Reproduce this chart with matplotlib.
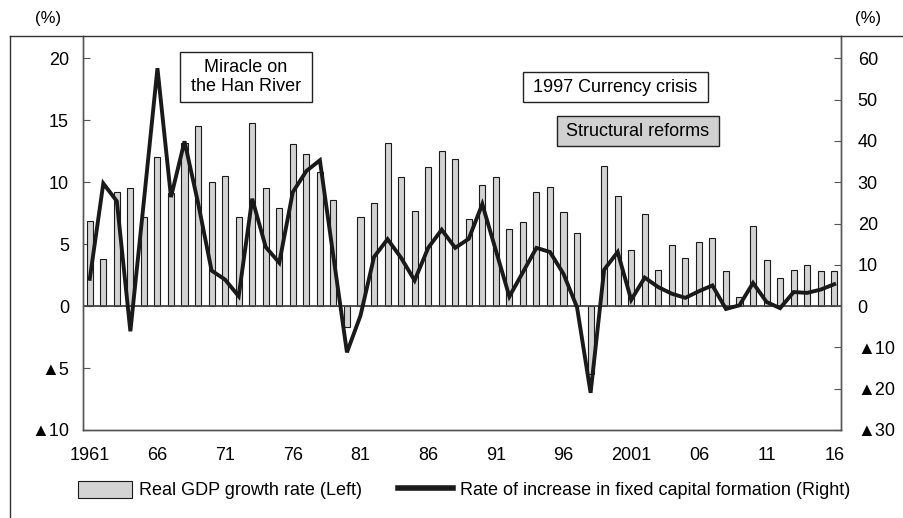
import matplotlib
matplotlib.use("Agg")
import matplotlib.pyplot as plt
from matplotlib.patches import Rectangle
from matplotlib.lines import Line2D

years = list(range(1961, 2017))
gdp_growth = [6.9, 3.8, 9.2, 9.5, 7.2, 12.0, 9.1, 13.2, 14.5, 10.0,
              10.5, 7.2, 14.8, 9.5, 7.9, 13.1, 12.3, 10.8, 8.6, -1.7,
              7.2, 8.3, 13.2, 10.4, 7.7, 11.2, 12.5, 11.9, 7.0, 9.8,
              10.4, 6.2, 6.8, 9.2, 9.6, 7.6, 5.9, -5.5, 11.3, 8.9,
              4.5, 7.4, 2.9, 4.9, 3.9, 5.2, 5.5, 2.8, 0.7, 6.5,
              3.7, 2.3, 2.9, 3.3, 2.8, 2.8]
capital_formation = [6.6, 29.7, 25.4, -6.1, 25.5, 57.6, 26.4, 39.9, 25.0, 8.6,
                     6.4, 2.4, 26.0, 14.3, 10.5, 27.6, 32.7, 35.3, 12.0, -11.2,
                     -2.3, 11.9, 16.2, 11.7, 6.2, 14.1, 18.5, 14.1, 16.3, 24.7,
                     13.5, 2.3, 8.2, 14.1, 13.1, 7.8, -0.3, -21.0, 8.8, 13.1,
                     1.5, 6.9, 4.6, 3.0, 2.0, 3.6, 5.0, -0.7, 0.2, 5.6,
                     1.0, -0.5, 3.4, 3.2, 4.0, 5.3]
xtick_years = [1961, 1966, 1971, 1976, 1981, 1986, 1991, 1996, 2001, 2006, 2011, 2016]
xtick_labels = ['1961', '66', '71', '76', '81', '86', '91', '96', '2001', '06', '11', '16']
left_ticks = [-10, -5, 0, 5, 10, 15, 20]
left_labels = ['▲10', '▲5', '0', '5', '10', '15', '20']
right_ticks = [-30, -20, -10, 0, 10, 20, 30, 40, 50, 60]
right_labels = ['▲30', '▲20', '▲10', '0', '10', '20', '30', '40', '50', '60']

W, H = 904, 518
FONT = ['Liberation Sans', 'DejaVu Sans']
plt.rcParams['font.family'] = FONT

fig = plt.figure(figsize=(W / 100, H / 100), dpi=100)

def fx(px):
    return px / W

def fy(py):
    return 1 - py / H

ax_l, ax_r, ax_t, ax_b = 83, 841, 36, 430
ax = fig.add_axes([fx(ax_l), fy(ax_b), fx(ax_r - ax_l), (ax_b - ax_t) / H])
ax2 = ax.twinx()

spine_c = '#555555'
bars = ax.bar(years, gdp_growth, width=0.45, color='#d3d3d3', edgecolor='#1a1a1a',
              linewidth=0.8, zorder=2)
ax.axhline(0, color='#444444', lw=1.3, zorder=3)
line, = ax2.plot(years, capital_formation, color='#1a1a1a', lw=2.8, zorder=4,
                 solid_joinstyle='miter')

ax.set_xlim(1960.5, 2016.5)
ax.set_ylim(-10, 21.8)
ax2.set_ylim(-30, 65.4)

ax.set_xticks(xtick_years)
ax.set_xticklabels(xtick_labels, fontsize=13)
ax.tick_params(axis='x', length=0, pad=12)

ax.set_yticks(left_ticks)
ax.set_yticklabels(left_labels, fontsize=13)
ax.tick_params(axis='y', direction='in', length=5, width=0.8, color=spine_c, pad=10)

ax2.set_yticks(right_ticks)
ax2.set_yticklabels(right_labels, fontsize=13)
ax2.tick_params(axis='y', direction='in', length=5, width=0.8, color=spine_c, pad=12)

for a in (ax, ax2):
    for s in ('left', 'right', 'bottom'):
        a.spines[s].set_color(spine_c)
        a.spines[s].set_linewidth(1.0)
    a.spines['top'].set_visible(False)

# outer frame lines
fig.add_artist(Line2D([fx(10), fx(10)], [0, fy(36)], color='#333333', lw=1.0))
fig.add_artist(Line2D([fx(10), 1], [fy(36), fy(36)], color='#333333', lw=1.0))

fig.text(fx(48), fy(18), '(%)', ha='center', va='center', fontsize=12)
fig.text(fx(868), fy(18), '(%)', ha='center', va='center', fontsize=12)

def boxed(x0, y0, x1, y1, text, face):
    fig.add_artist(Rectangle((fx(x0), fy(y1)), fx(x1 - x0), (y1 - y0) / H,
                             transform=fig.transFigure, facecolor=face,
                             edgecolor='#222222', lw=1.0, zorder=5))
    fig.text(fx((x0 + x1) / 2), fy((y0 + y1) / 2), text, ha='center', va='center',
             fontsize=13, linespacing=1.15, zorder=6)

boxed(180, 52, 312, 102, 'Miracle on\nthe Han River', 'white')
boxed(523, 72, 708, 102, '1997 Currency crisis', 'white')
boxed(557, 116, 719, 146, 'Structural reforms', '#d0d0d0')

leg = fig.legend([bars, line], ['Real GDP growth rate (Left)',
                                'Rate of increase in fixed capital formation (Right)'],
                 loc='center', bbox_to_anchor=(fx(464), fy(490)), ncol=2, frameon=False,
                 prop={'size': 13}, handlelength=3.0, handleheight=1.1,
                 columnspacing=2.0, handletextpad=0.4)
for h in leg.legend_handles:
    if isinstance(h, Line2D):
        h.set_linewidth(4)

fig.savefig('out.png', dpi=100)
